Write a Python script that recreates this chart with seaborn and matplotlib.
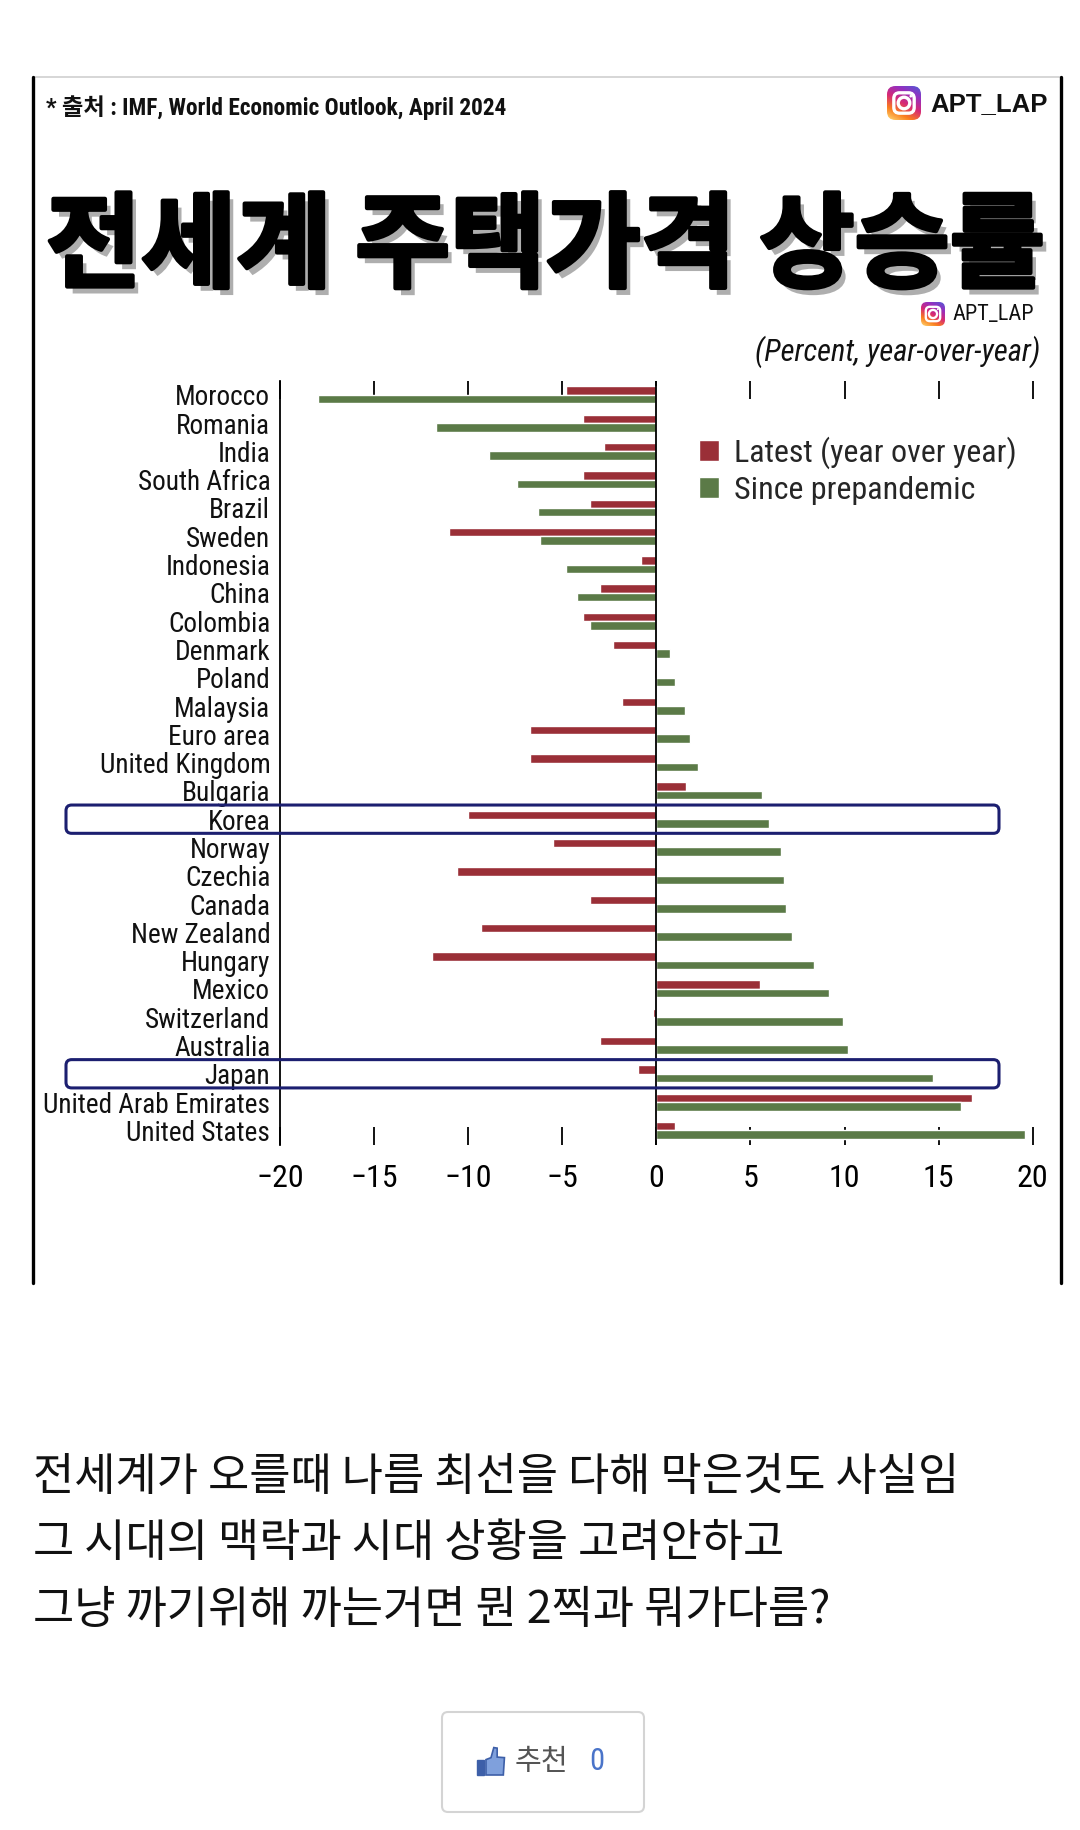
'''Global house price growth chart (IMF WEO April 2024), Korean post layout'''
import numpy as np
import pandas as pd
import matplotlib
matplotlib.use('Agg')
import matplotlib.pyplot as plt
import matplotlib.patches as mpatches
import matplotlib.patheffects as pe
from matplotlib import font_manager
from matplotlib.colors import LinearSegmentedColormap
import seaborn as sns

#region data
countries = ['Morocco', 'Romania', 'India', 'South Africa', 'Brazil', 'Sweden',
             'Indonesia', 'China', 'Colombia', 'Denmark', 'Poland', 'Malaysia',
             'Euro area', 'United Kingdom', 'Bulgaria', 'Korea', 'Norway', 'Czechia',
             'Canada', 'New Zealand', 'Hungary', 'Mexico', 'Switzerland', 'Australia',
             'Japan', 'United Arab Emirates', 'United States']
latest = [-4.8, -3.9, -2.8, -3.9, -3.5, -11.0, -0.8, -3.0, -3.9, -2.3, -0.1, -1.8,
          -6.7, -6.7, 1.6, -10.0, -5.5, -10.6, -3.5, -9.3, -11.9, 5.5, -0.2, -3.0,
          -1.0, 16.8, 1.0]
since_pre = [-18.0, -11.7, -8.9, -7.4, -6.3, -6.2, -4.8, -4.2, -3.5, 0.7, 1.0, 1.5,
             1.8, 2.2, 5.6, 6.0, 6.6, 6.8, 6.9, 7.2, 8.4, 9.2, 9.9, 10.2,
             14.7, 16.2, 19.6]
series_names = ['Latest (year over year)', 'Since prepandemic']
highlight = ['Korea', 'Japan']
x_ticks = [-20, -15, -10, -5, 0, 5, 10, 15, 20]

title = '전세계 주택가격 상승률'
source = '* 출처 : IMF, World Economic Outlook, April 2024'
unit_note = '(Percent, year-over-year)'
handle = 'APT_LAP'
body_lines = ['전세계가 오를때 나름 최선을 다해 막은것도 사실임',
              '그 시대의 맥락과 시대 상황을 고려안하고',
              '그냥 까기위해 까는거면 뭔 2찍과 뭐가다름?']
like_label = '추천'
like_count = '0'
#endregion

RED = '#9a2f37'
GREEN = '#5b7a47'
NAVY = '#1c1f70'
W, H = 1080, 1830

sns.set_style('white')
_names = {f.name for f in font_manager.fontManager.ttflist}


def pick(*cands):
    for c in cands:
        if c in _names:
            return c
    return 'DejaVu Sans'


NARROW = pick('Liberation Sans Narrow', 'Roboto Condensed', 'Liberation Sans')
SANS = pick('Liberation Sans', 'DejaVu Sans')
CJK = 'Noto Sans CJK KR'
plt.rcParams['font.family'] = [NARROW, CJK, 'DejaVu Sans']
plt.rcParams['axes.unicode_minus'] = True

fig = plt.figure(figsize=(W / 100, H / 100), dpi=100)
fig.patch.set_facecolor('white')

#region chart
ax_top, ax_bot, ax_left, ax_right = 380.7, 1144.5, 280.0, 1032.7
ax = fig.add_axes([ax_left / W, 1 - ax_bot / H, (ax_right - ax_left) / W, (ax_bot - ax_top) / H])

n = len(countries)
df = pd.DataFrame({
    'country': countries * 2,
    'series': [series_names[0]] * n + [series_names[1]] * n,
    'value': latest + since_pre,
})
sns.barplot(data=df, y='country', x='value', hue='series', order=countries,
            hue_order=series_names, palette=[RED, GREEN], width=0.6, orient='h',
            saturation=1, ax=ax)

ax.set_xlim(x_ticks[0], x_ticks[-1])
ax.set_ylim(n - 0.5, -0.5)
ax.axvline(0, color='black', lw=1.3, zorder=4)
for s in ['top', 'right', 'bottom']:
    ax.spines[s].set_visible(False)
ax.spines['left'].set_color('black')
ax.spines['left'].set_linewidth(1.3)
ax.set_xlabel('')
ax.set_ylabel('')

ax.set_xticks(x_ticks, labels=[str(t).replace('-', '\u2212') for t in x_ticks])
ax.tick_params(axis='x', which='major', direction='in', length=13, width=1.3,
               top=True, bottom=True, labelsize=23, pad=14, colors='black')
ax.set_yticks(np.arange(n + 1) - 0.5, labels=[''] * (n + 1))
ax.set_yticks(np.arange(n), labels=countries, minor=True)
ax.tick_params(axis='y', which='major', direction='in', length=11, width=1.3, color='black')
ax.tick_params(axis='y', which='minor', length=0, pad=7, labelsize=19.6, labelcolor='#111111')

leg = ax.legend(loc='upper left', bbox_to_anchor=(699 / W, 1 - 436 / H),
                bbox_transform=fig.transFigure, frameon=False, fontsize=23,
                handlelength=0.64, handleheight=0.64, handletextpad=0.45,
                labelspacing=0.22, borderpad=0, borderaxespad=0)

# highlight boxes around Korea / Japan rows
px_per_x = (ax_right - ax_left) / (x_ticks[-1] - x_ticks[0])
px_per_y = (ax_bot - ax_top) / n
box_x0 = x_ticks[0] + (66 - ax_left) / px_per_x
box_x1 = x_ticks[0] + (999 - ax_left) / px_per_x
for name in highlight:
    i = countries.index(name)
    box = mpatches.FancyBboxPatch((box_x0, i - 0.5), box_x1 - box_x0, 1.0,
                                  boxstyle='round,pad=0,rounding_size=0.3',
                                  mutation_aspect=px_per_x / px_per_y,
                                  fc='none', ec=NAVY, lw=2.2, clip_on=False, zorder=10)
    ax.add_patch(box)
#endregion

#region overlay (frame, texts, icons)
ov = fig.add_axes([0, 0, 1, 1])
ov.set_zorder(5)
ov.patch.set_alpha(0)
ov.axis('off')

ov.plot([33, 1061], [77, 77], color='#cfcfcf', lw=1.2)
ov.plot([33, 33], [77, 1283], color='black', lw=2.4)
ov.plot([1061, 1061], [77, 1283], color='black', lw=2.4)


def insta_icon(x0, y0, s):
    g = np.linspace(0, 1, 80)
    gx, gy = np.meshgrid(g, g)
    t = np.clip(0.65 * gy + 0.35 * (1 - gx), 0, 1)
    cmap = LinearSegmentedColormap.from_list('ig', ['#4f5bd5', '#962fbf', '#d62976', '#fa7e1e', '#feda75'])
    im = ov.imshow(t, cmap=cmap, extent=[x0, x0 + s, y0 + s, y0], aspect='auto', zorder=6)
    clip = mpatches.FancyBboxPatch((x0, y0), s, s, boxstyle='round,pad=0,rounding_size=%f' % (s * 0.25),
                                   fc='none', ec='none', transform=ov.transData)
    ov.add_patch(clip)
    im.set_clip_path(clip)
    m = s * 0.2
    ov.add_patch(mpatches.FancyBboxPatch((x0 + m, y0 + m), s - 2 * m, s - 2 * m,
                                         boxstyle='round,pad=0,rounding_size=%f' % (s * 0.17),
                                         fc='none', ec='white', lw=s * 0.07, zorder=7))
    ov.add_patch(mpatches.Circle((x0 + s / 2, y0 + s / 2), s * 0.17, fc='none', ec='white',
                                 lw=s * 0.07, zorder=7))
    ov.add_patch(mpatches.Circle((x0 + s * 0.7, y0 + s * 0.3), s * 0.04, fc='white', ec='none', zorder=7))


insta_icon(887, 86, 34)
ov.text(930, 104, handle, fontsize=18.5, fontweight='bold', family=[SANS, 'DejaVu Sans'],
        ha='left', va='center', color='#111111')
insta_icon(921, 302, 24)
ov.text(952, 314, handle, fontsize=16, ha='left', va='center', color='#111111')

ov.text(46, 108, source, fontsize=16.8, fontweight='bold', ha='left', va='center',
        color='#111111', family=[NARROW, CJK])

ov.text(46, 248, title, fontsize=74.5, fontweight='black', ha='left', va='center',
        color='black', family=[CJK],
        path_effects=[pe.SimplePatchShadow(offset=(4, -5), shadow_rgbFace='#a0a0a0', alpha=0.85),
                      pe.withStroke(linewidth=3, foreground='black')])

ov.text(1040, 352, unit_note, fontsize=22, style='italic', ha='right', va='center', color='#111111')

for k, line in enumerate(body_lines):
    ov.text(33, 1477 + k * 66.5, line, fontsize=32.3, ha='left', va='center',
            color='#111111', family=[CJK])

ov.add_patch(mpatches.FancyBboxPatch((442, 1712), 202, 100, boxstyle='round,pad=0,rounding_size=6',
                                     fc='white', ec='#d4d4d4', lw=1.5))
# thumbs-up icon
tx, ty, ts = 477, 1747, 28
ov.add_patch(mpatches.Rectangle((tx, ty + 0.45 * ts), 0.26 * ts, 0.55 * ts, fc='#3d5fa8', ec='#3d5fa8'))
hand = np.array([(0.32, 0.45), (0.5, 0.38), (0.6, 0.02), (0.72, 0.04), (0.72, 0.36),
                 (0.98, 0.38), (0.94, 1.0), (0.32, 1.0)])
ov.add_patch(mpatches.Polygon(np.c_[tx + hand[:, 0] * ts, ty + hand[:, 1] * ts],
                              fc='#7fa0dc', ec='#3d5fa8', lw=1.2))
ov.text(515, 1762, like_label, fontsize=21, ha='left', va='center', color='#555555', family=[CJK])
ov.text(589, 1762, like_count, fontsize=22, ha='left', va='center', color='#4a74c9')

ov.set_xlim(0, W)
ov.set_ylim(H, 0)
#endregion

fig.savefig('out.png', dpi=100, facecolor='white')
